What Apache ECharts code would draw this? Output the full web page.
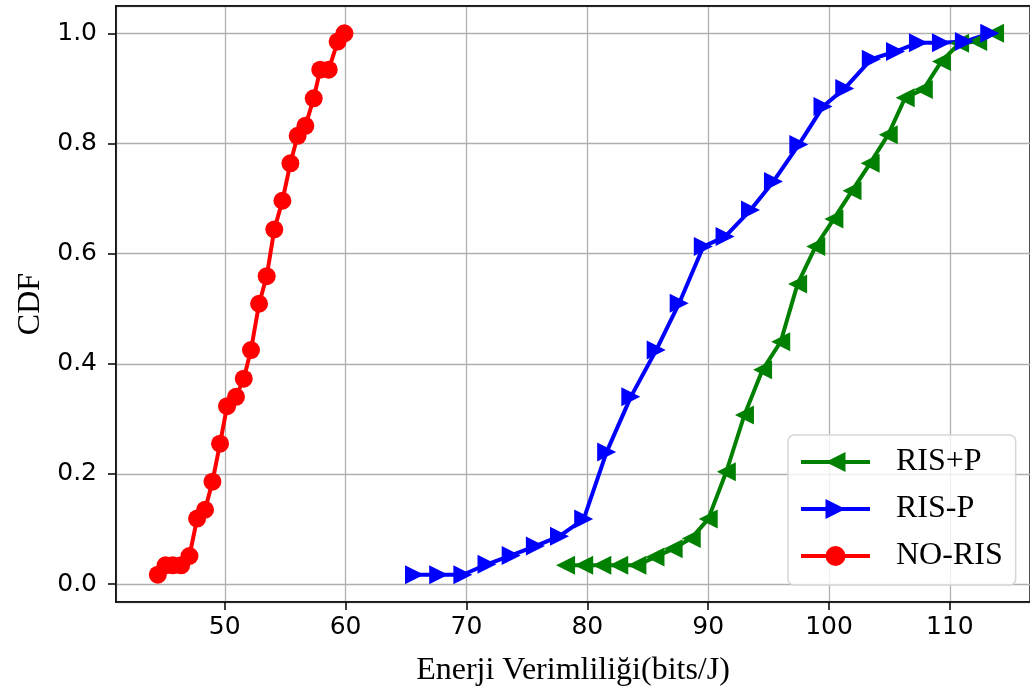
<!DOCTYPE html>
<html>
<head>
<meta charset="utf-8">
<script src="https://cdn.jsdelivr.net/npm/echarts@6/dist/echarts.min.js"></script>
<style>
  html, body { margin: 0; padding: 0; background: #fff; }
  #grafica { width: 1030px; height: 693px; }
</style>
</head>
<body>
<div id="grafica"></div>
<script>
// datos (CDF de eficiencia energetica)
const risPlusX = [78.2, 79.7, 81.2, 82.6, 84.1, 85.6, 87.1, 88.6, 90.0, 91.5, 93.0, 94.5, 96.0, 97.4, 98.9, 100.4, 101.9, 103.4, 104.9, 106.3, 107.8, 109.3, 110.8, 112.3, 113.7];
const risPlusY = [0.034, 0.034, 0.034, 0.034, 0.034, 0.049, 0.064, 0.083, 0.118, 0.204, 0.307, 0.389, 0.440, 0.545, 0.613, 0.663, 0.714, 0.764, 0.816, 0.883, 0.898, 0.949, 0.982, 0.985, 1.0];

const risMinusX = [65.7, 67.7, 69.7, 71.7, 73.7, 75.7, 77.7, 79.7, 81.6, 83.6, 85.7, 87.6, 89.6, 91.4, 93.5, 95.4, 97.5, 99.5, 101.3, 103.5, 105.5, 107.4, 109.3, 111.2, 113.3];
const risMinusY = [0.017, 0.017, 0.017, 0.036, 0.052, 0.069, 0.087, 0.118, 0.240, 0.340, 0.425, 0.510, 0.613, 0.631, 0.679, 0.731, 0.798, 0.867, 0.900, 0.953, 0.967, 0.983, 0.983, 0.985, 1.0];

const noRisX = [44.46, 45.10, 45.70, 46.39, 47.08, 47.71, 48.37, 48.98, 49.61, 50.19, 50.93, 51.57, 52.17, 52.84, 53.47, 54.10, 54.77, 55.43, 56.03, 56.67, 57.36, 57.90, 58.60, 59.34, 59.90];
const noRisY = [0.017, 0.034, 0.034, 0.034, 0.051, 0.119, 0.135, 0.186, 0.255, 0.323, 0.340, 0.373, 0.425, 0.509, 0.559, 0.644, 0.696, 0.764, 0.814, 0.832, 0.882, 0.934, 0.934, 0.985, 1.0];

const nombres = ['RIS+P', 'RIS-P', 'NO-RIS'];

// junta x e y en pares
function pares(xs, ys) {
    return xs.map((x, i) => [x, ys[i]]);
}

const serif = 'Liberation Serif, Times New Roman, serif';
const sans = 'DejaVu Sans, sans-serif';

let grafica = echarts.init(document.querySelector('#grafica'), null, { renderer: 'canvas' });

let option = {
    backgroundColor: '#ffffff',
    animation: false,
    grid: {
        left: 116, right: 0, top: 6, bottom: 91,
        show: true, borderColor: '#000', borderWidth: 1.5
    },
    legend: {
        orient: 'vertical',
        left: 788, top: 435,
        padding: [11, 13, 13, 11],
        itemWidth: 69, itemHeight: 25, itemGap: 15,
        backgroundColor: 'rgba(255,255,255,0.8)',
        borderColor: '#d6d6d6', borderWidth: 1.5, borderRadius: 6,
        lineStyle: { width: 4 },
        textStyle: { fontFamily: serif, fontSize: 32, color: '#000', lineHeight: 32, padding: [0, 0, 0, 21] },
        data: nombres
    },
    xAxis: [
        {
            type: 'value',
            min: 41.0, max: 116.63,
            minInterval: 10, maxInterval: 10,
            name: 'Enerji Verimliliği(bits/J)',
            nameLocation: 'middle', nameGap: 53,
            nameTextStyle: { fontFamily: serif, fontSize: 32, color: '#000' },
            axisLine: { show: true, onZero: false, lineStyle: { color: '#000', width: 1.5 } },
            axisTick: { show: true, length: 8, lineStyle: { color: '#000', width: 1.5 } },
            axisLabel: { fontFamily: sans, fontSize: 25, color: '#000', margin: 13, showMinLabel: false, showMaxLabel: false },
            splitLine: { show: true, lineStyle: { color: '#b0b0b0', width: 1.3 } }
        },
        {
            // solo el borde superior negro
            type: 'value', position: 'top',
            min: 41.0, max: 116.63,
            axisLine: { show: true, onZero: false, lineStyle: { color: '#000', width: 1.5 } },
            axisTick: { show: false },
            axisLabel: { show: false },
            splitLine: { show: false }
        }
    ],
    yAxis: {
        type: 'value',
        min: -0.0325, max: 1.0496,
        minInterval: 0.2, maxInterval: 0.2,
        name: 'CDF',
        nameLocation: 'middle', nameGap: 67, nameRotate: 90,
        nameTextStyle: { fontFamily: serif, fontSize: 32, color: '#000' },
        axisLine: { show: true, onZero: false, lineStyle: { color: '#000', width: 1.5 } },
        axisTick: { show: true, length: 8, lineStyle: { color: '#000', width: 1.5 } },
        axisLabel: {
            fontFamily: sans, fontSize: 25, color: '#000', margin: 19,
            showMinLabel: false, showMaxLabel: false,
            formatter: v => v.toFixed(1)
        },
        splitLine: { show: true, lineStyle: { color: '#b0b0b0', width: 1.3 } }
    },
    series: [
        {
            name: nombres[0], type: 'line',
            data: pares(risPlusX, risPlusY),
            symbol: 'triangle', symbolSize: 19, symbolRotate: 90,
            color: '#008000',
            lineStyle: { color: '#008000', width: 4 },
            itemStyle: { color: '#008000' }
        },
        {
            name: nombres[1], type: 'line',
            data: pares(risMinusX, risMinusY),
            symbol: 'triangle', symbolSize: 19, symbolRotate: -90,
            color: '#0000ff',
            lineStyle: { color: '#0000ff', width: 4 },
            itemStyle: { color: '#0000ff' }
        },
        {
            name: nombres[2], type: 'line',
            data: pares(noRisX, noRisY),
            symbol: 'circle', symbolSize: 18,
            color: '#ff0000',
            lineStyle: { color: '#ff0000', width: 4 },
            itemStyle: { color: '#ff0000' }
        }
    ]
};

grafica.setOption(option);
</script>
</body>
</html>
